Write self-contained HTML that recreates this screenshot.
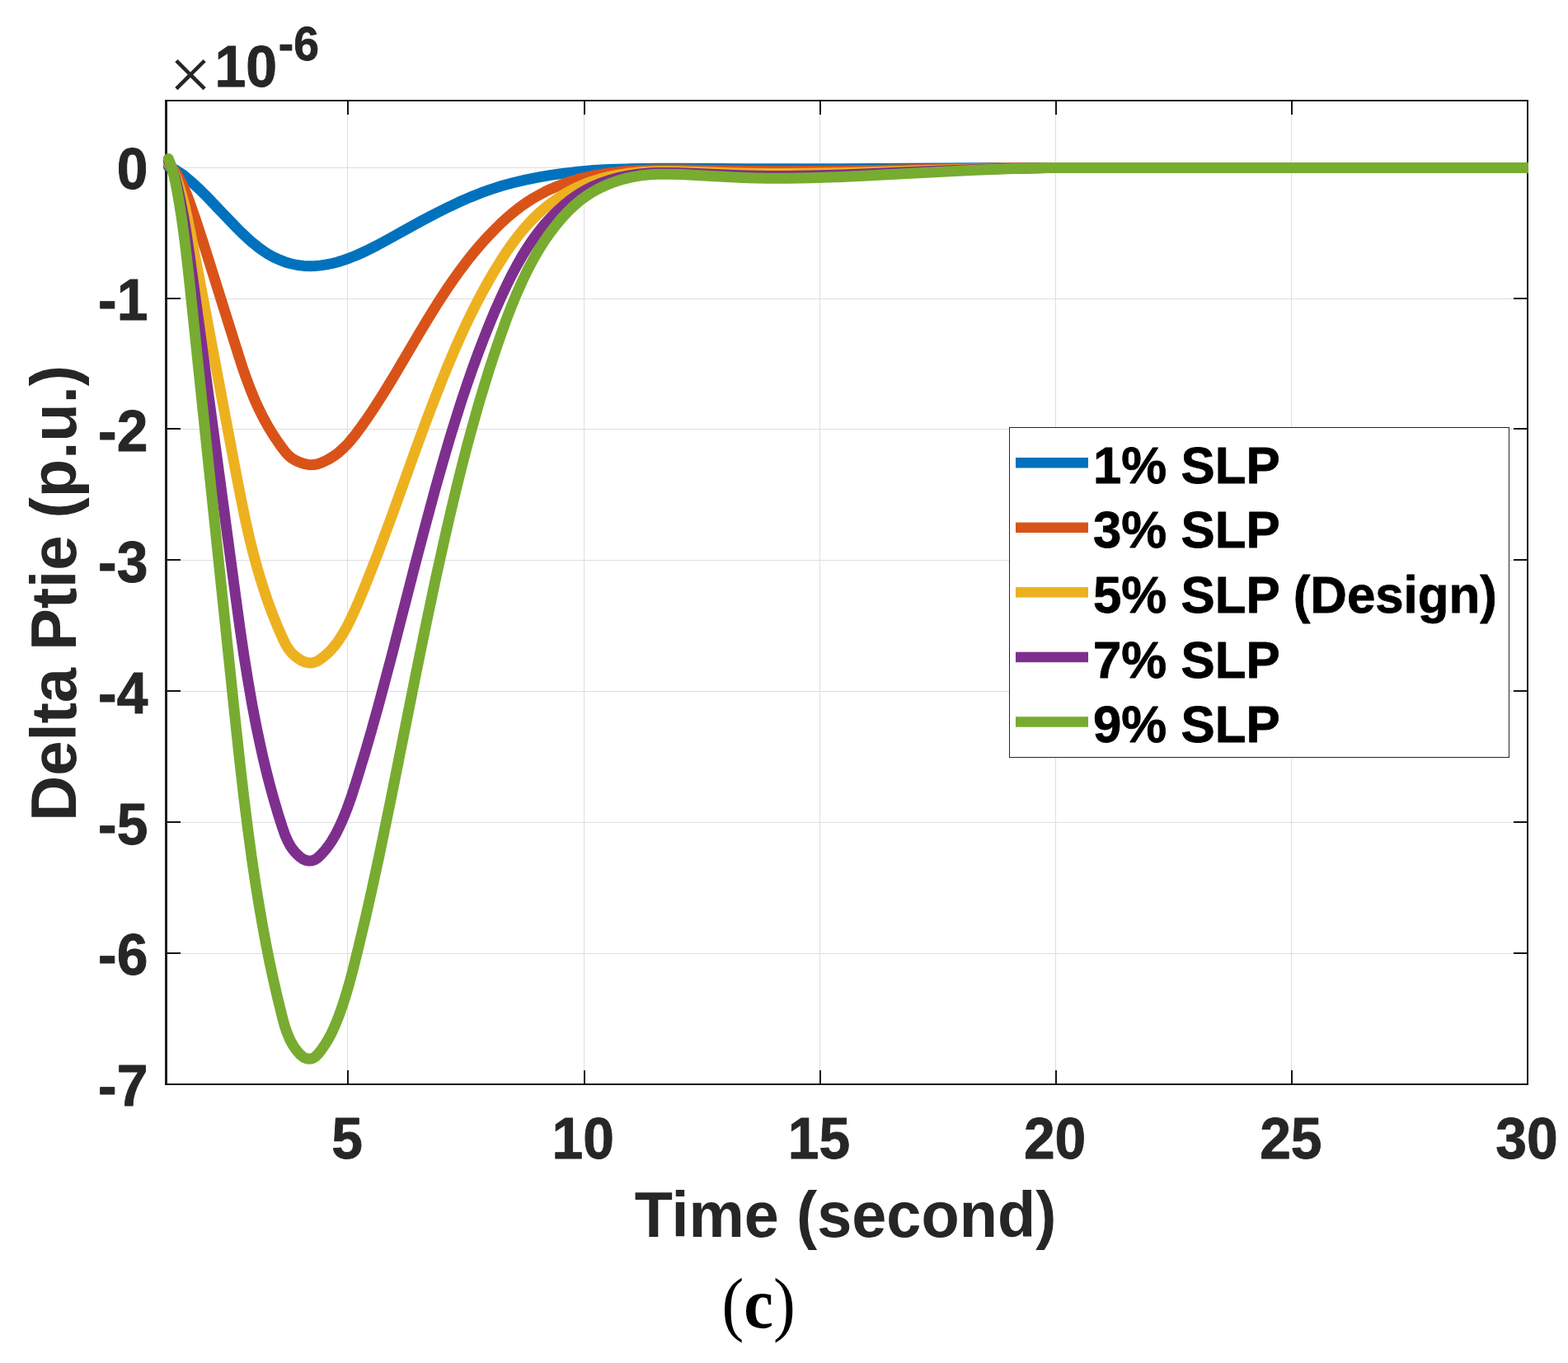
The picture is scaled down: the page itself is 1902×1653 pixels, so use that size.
<!DOCTYPE html><html><head><meta charset="utf-8"><title>Delta Ptie</title>
<style>html,body{margin:0;padding:0;background:#fff;}svg{display:block;}text{font-family:"Liberation Sans",Arial,Helvetica,sans-serif;font-weight:bold;}</style></head><body>
<svg width="1902" height="1653" viewBox="0 0 1902 1653">
<rect width="1902" height="1653" fill="#fff"/>
<defs><clipPath id="ax"><rect x="197" y="0" width="1657" height="1653"/></clipPath></defs>
<g fill="#dedede">
<rect x="421" y="123" width="1" height="1191"/>
<rect x="708" y="123" width="1" height="1191"/>
<rect x="994" y="123" width="1" height="1191"/>
<rect x="1280" y="123" width="1" height="1191"/>
<rect x="1566" y="123" width="1" height="1191"/>
<rect x="203" y="203" width="1649" height="1"/>
<rect x="203" y="362" width="1649" height="1"/>
<rect x="203" y="520" width="1649" height="1"/>
<rect x="203" y="679" width="1649" height="1"/>
<rect x="203" y="838" width="1649" height="1"/>
<rect x="203" y="997" width="1649" height="1"/>
<rect x="203" y="1156" width="1649" height="1"/>
</g>
<g fill="#141414">
<rect x="200" y="121" width="3" height="1195" fill="#1e1e1e"/>
<rect x="200" y="121" width="1654" height="2"/>
<rect x="1852" y="121" width="2" height="1195"/>
<rect x="200" y="1314" width="1654" height="2"/>
<rect x="421" y="1298" width="2" height="17"/>
<rect x="421" y="122" width="2" height="17"/>
<rect x="708" y="1298" width="2" height="17"/>
<rect x="708" y="122" width="2" height="17"/>
<rect x="994" y="1298" width="2" height="17"/>
<rect x="994" y="122" width="2" height="17"/>
<rect x="1280" y="1298" width="2" height="17"/>
<rect x="1280" y="122" width="2" height="17"/>
<rect x="1566" y="1298" width="2" height="17"/>
<rect x="1566" y="122" width="2" height="17"/>
<rect x="202" y="361" width="17" height="2"/>
<rect x="1836" y="361" width="17" height="2"/>
<rect x="202" y="519" width="17" height="2"/>
<rect x="1836" y="519" width="17" height="2"/>
<rect x="202" y="678" width="17" height="2"/>
<rect x="1836" y="678" width="17" height="2"/>
<rect x="202" y="837" width="17" height="2"/>
<rect x="1836" y="837" width="17" height="2"/>
<rect x="202" y="996" width="17" height="2"/>
<rect x="1836" y="996" width="17" height="2"/>
<rect x="202" y="1155" width="17" height="2"/>
<rect x="1836" y="1155" width="17" height="2"/>
</g>
<g fill="#262626" stroke="#262626" stroke-width="0.9" stroke-linejoin="round" font-size="70.2">
<text transform="translate(179.3,229.4) scale(0.965,1)" text-anchor="end">0</text>
<text transform="translate(179.3,388.2) scale(0.965,1)" text-anchor="end">-1</text>
<text transform="translate(179.3,547.1) scale(0.965,1)" text-anchor="end">-2</text>
<text transform="translate(179.3,705.9) scale(0.965,1)" text-anchor="end">-3</text>
<text transform="translate(179.3,864.7) scale(0.965,1)" text-anchor="end">-4</text>
<text transform="translate(179.3,1023.6) scale(0.965,1)" text-anchor="end">-5</text>
<text transform="translate(179.3,1182.4) scale(0.965,1)" text-anchor="end">-6</text>
<text transform="translate(179.3,1341.2) scale(0.965,1)" text-anchor="end">-7</text>
<text transform="translate(421.0,1404.6) scale(0.965,1)" text-anchor="middle">5</text>
<text transform="translate(707.2,1404.6) scale(0.965,1)" text-anchor="middle">10</text>
<text transform="translate(993.4,1404.6) scale(0.965,1)" text-anchor="middle">15</text>
<text transform="translate(1279.6,1404.6) scale(0.965,1)" text-anchor="middle">20</text>
<text transform="translate(1565.8,1404.6) scale(0.965,1)" text-anchor="middle">25</text>
<text transform="translate(1852.0,1404.6) scale(0.965,1)" text-anchor="middle">30</text>
</g>
<text transform="translate(260.5,105) scale(0.965,1)" font-size="70.4" fill="#262626" stroke="#262626" stroke-width="0.9" stroke-linejoin="round">10</text>
<text transform="translate(337.8,73) scale(0.97,1)" font-size="57" fill="#262626" stroke="#262626" stroke-width="0.8" stroke-linejoin="round">-6</text>
<text x="205" y="120.5" font-size="92" fill="#262626" style="font-family:'Liberation Serif',serif;font-weight:normal">×</text>
<text transform="translate(1025.5,1500.3) scale(0.962,1)" text-anchor="middle" font-size="78.7" fill="#262626">Time (second)</text>
<text transform="translate(92,719.3) rotate(-90) scale(0.965,1)" text-anchor="middle" font-size="78.7" fill="#262626">Delta Ptie (p.u.)</text>
<g clip-path="url(#ax)" fill="none" stroke-width="13" stroke-linejoin="round" stroke-linecap="round">
<path d="M204.3,202.0 L207.6,203.4 L211.1,205.2 L214.6,207.2 L218.3,209.6 L222.1,212.2 L225.8,215.1 L233.8,221.9 L240.8,228.4 L248.8,236.3 L279.6,268.6 L286.6,275.8 L292.8,282.0 L299.8,288.6 L306.3,294.3 L312.6,299.4 L318.3,303.6 L325.1,308.1 L332.1,312.0 L339.1,315.2 L346.3,317.9 L353.6,320.0 L360.8,321.5 L368.3,322.4 L376.1,322.7 L382.6,322.5 L389.1,321.9 L395.8,320.9 L402.8,319.5 L409.8,317.7 L417.1,315.4 L424.3,312.8 L432.1,309.7 L444.1,304.3 L457.3,297.6 L469.3,291.1 L497.1,275.7 L512.5,267.3 L527.8,259.2 L541.8,252.2 L556.3,245.3 L569.8,239.4 L582.8,234.2 L595.5,229.6 L609.0,225.3 L623.0,221.5 L637.3,218.1 L652.3,215.1 L668.0,212.4 L684.5,210.1 L701.5,208.2 L720.1,206.6 L738.2,205.6 L758.0,204.9 L778.1,204.4 L800.0,204.3 L827.5,204.3 L907.1,204.8 L954.5,204.8 L1013.5,204.7 L1183.0,203.7 L1269.7,203.4 L1860.0,203.4" stroke="#0072BD"/>
<path d="M204.3,199.8 L207.6,202.7 L210.6,205.8 L213.1,209.3 L215.9,213.9 L219.4,220.3 L222.7,227.0 L225.8,234.2 L228.9,242.2 L236.6,264.2 L245.5,291.2 L288.0,426.5 L294.2,445.8 L299.1,459.8 L303.9,472.5 L308.7,484.3 L313.8,495.5 L317.6,503.2 L321.6,510.8 L325.7,518.1 L330.0,525.1 L334.7,532.4 L339.6,539.5 L345.1,546.9 L348.3,550.7 L351.1,553.4 L354.1,555.8 L357.6,557.9 L361.5,559.8 L366.0,561.6 L369.8,562.7 L373.8,563.4 L377.6,563.7 L380.5,563.6 L383.2,563.2 L385.8,562.6 L388.5,561.7 L392.9,559.8 L397.1,557.7 L401.1,555.5 L404.9,553.1 L408.1,550.8 L411.3,548.3 L414.5,545.4 L417.9,542.2 L421.1,539.0 L424.2,535.5 L430.7,527.7 L438.1,517.7 L446.2,506.1 L454.3,494.1 L462.7,481.0 L470.1,469.0 L478.4,455.3 L506.9,407.0 L518.4,387.8 L530.6,368.1 L542.2,350.4 L548.9,340.6 L555.4,331.4 L561.8,322.8 L568.2,314.4 L574.7,306.4 L581.1,298.8 L587.7,291.3 L594.4,284.1 L601.4,277.0 L607.9,270.5 L614.3,264.7 L620.8,259.1 L627.4,253.8 L633.9,248.9 L640.4,244.5 L647.0,240.3 L653.9,236.4 L660.9,232.7 L668.2,229.2 L675.8,226.0 L683.7,223.0 L692.0,220.1 L700.2,217.6 L708.2,215.5 L717.5,213.5 L727.6,211.6 L738.4,210.0 L749.8,208.6 L761.5,207.6 L773.2,206.8 L785.1,206.3 L798.4,206.0 L811.1,206.0 L826.6,206.1 L907.8,207.5 L954.5,207.7 L982.5,207.5 L1013.5,207.2 L1183.0,204.3 L1228.7,203.8 L1269.7,203.5 L1860.0,203.4" stroke="#D95319"/>
<path d="M204.3,197.3 L207.4,201.8 L210.0,206.6 L212.4,211.9 L214.8,218.4 L218.1,228.5 L221.2,239.2 L224.2,250.7 L227.0,263.2 L231.6,285.4 L243.3,345.7 L286.4,574.6 L292.3,604.7 L297.2,628.7 L302.0,650.1 L306.9,670.1 L312.0,688.8 L315.9,701.9 L319.9,714.6 L324.0,726.9 L328.3,738.9 L333.1,751.2 L338.0,763.1 L343.6,775.6 L346.8,782.1 L349.7,786.7 L352.7,790.7 L356.2,794.3 L360.1,797.5 L364.6,800.4 L366.5,801.5 L368.4,802.3 L370.4,803.0 L372.4,803.5 L374.4,803.8 L376.2,803.9 L379.1,803.7 L381.8,803.0 L384.3,802.1 L387.0,800.6 L391.0,797.7 L395.1,794.4 L399.0,790.9 L402.5,787.2 L405.5,783.6 L408.6,779.7 L411.7,775.3 L414.9,770.2 L417.9,765.1 L421.0,759.6 L424.0,753.6 L427.1,747.3 L433.4,733.2 L441.6,713.7 L449.5,693.9 L457.9,672.3 L466.0,650.8 L475.1,626.2 L503.8,546.4 L515.4,514.7 L527.8,482.1 L539.4,452.9 L546.4,436.1 L553.1,420.4 L559.8,405.4 L566.4,391.2 L573.1,377.5 L579.8,364.3 L586.6,351.6 L593.5,339.3 L600.6,327.1 L607.4,316.2 L613.9,306.1 L620.5,296.7 L627.1,287.8 L633.6,279.7 L640.1,272.2 L646.7,265.2 L653.6,258.6 L660.7,252.4 L668.1,246.6 L675.7,241.2 L683.7,236.0 L692.0,231.2 L700.2,227.1 L708.2,223.6 L717.5,220.2 L727.6,217.1 L738.4,214.4 L749.8,212.1 L761.5,210.3 L773.2,209.1 L785.1,208.2 L798.4,207.8 L811.1,207.7 L826.6,207.9 L886.5,209.8 L907.8,210.3 L930.6,210.5 L954.5,210.6 L982.5,210.3 L1013.5,209.7 L1047.4,208.9 L1138.0,206.2 L1183.0,205.0 L1228.7,204.0 L1269.7,203.5 L1298.7,203.4 L1860.0,203.4" stroke="#EDB120"/>
<path d="M204.3,194.9 L207.2,200.8 L209.8,207.3 L212.1,214.4 L214.4,223.1 L217.5,236.7 L220.5,251.3 L223.4,266.8 L226.1,283.8 L230.3,312.1 L240.8,388.9 L285.7,722.5 L291.2,763.0 L296.2,796.9 L301.1,827.3 L306.0,855.5 L311.1,881.9 L315.0,900.4 L318.9,918.2 L323.1,935.6 L327.4,952.4 L332.2,969.7 L337.1,986.4 L342.8,1004.2 L346.0,1013.4 L348.9,1019.8 L351.9,1025.4 L353.6,1028.0 L355.4,1030.4 L357.3,1032.8 L359.3,1035.0 L361.4,1037.0 L363.7,1039.1 L365.8,1040.7 L367.7,1041.9 L369.7,1042.8 L371.7,1043.5 L373.7,1043.9 L375.5,1044.0 L378.4,1043.8 L381.1,1042.9 L383.6,1041.6 L386.3,1039.5 L390.5,1035.3 L394.6,1030.7 L398.4,1025.8 L402.1,1020.4 L405.2,1015.2 L408.3,1009.7 L411.4,1003.3 L414.7,996.2 L417.8,988.9 L420.9,981.0 L423.9,972.7 L427.1,963.6 L434.0,941.9 L442.5,913.9 L450.8,885.3 L459.5,853.9 L466.9,826.3 L475.3,794.7 L503.9,683.2 L515.7,638.4 L528.1,592.4 L539.9,550.9 L546.8,527.6 L553.6,505.7 L560.2,484.9 L566.8,465.3 L573.4,446.3 L580.1,428.0 L586.9,410.2 L593.8,392.9 L600.8,376.1 L607.6,360.8 L614.2,346.7 L620.7,333.6 L627.3,321.2 L633.8,309.8 L640.3,299.4 L646.9,289.7 L653.7,280.5 L660.7,271.9 L668.1,263.8 L675.7,256.3 L683.7,249.0 L692.0,242.4 L700.2,236.6 L708.2,231.7 L712.7,229.3 L717.5,226.9 L722.4,224.7 L727.6,222.6 L733.0,220.6 L738.4,218.8 L744.0,217.2 L749.8,215.6 L755.5,214.3 L761.5,213.1 L767.3,212.1 L773.2,211.3 L779.0,210.7 L785.1,210.1 L798.4,209.5 L811.1,209.4 L826.6,209.8 L844.4,210.4 L886.5,212.3 L907.8,213.0 L930.6,213.4 L954.5,213.4 L982.5,213.1 L1013.5,212.3 L1047.4,211.0 L1138.0,207.3 L1183.0,205.6 L1228.7,204.3 L1269.7,203.5 L1298.7,203.4 L1320.0,203.5 L1860.0,203.4" stroke="#7E2F8E"/>
<path d="M204.3,192.5 L207.1,199.8 L209.6,208.0 L211.9,216.9 L214.1,227.6 L217.2,244.9 L220.1,263.1 L222.8,282.6 L225.5,303.8 L227.9,324.7 L230.8,351.2 L285.0,869.6 L290.5,920.8 L295.5,964.6 L300.4,1003.9 L305.3,1040.3 L310.4,1074.6 L314.3,1098.4 L318.3,1121.5 L322.5,1144.1 L326.8,1166.0 L331.6,1188.2 L336.6,1209.9 L342.3,1233.0 L345.5,1244.9 L348.4,1253.1 L351.4,1260.3 L353.1,1263.6 L354.9,1266.7 L356.8,1269.8 L358.8,1272.5 L360.9,1275.2 L363.2,1277.8 L365.3,1279.9 L367.2,1281.4 L369.2,1282.7 L371.2,1283.5 L373.2,1284.1 L375.0,1284.2 L376.3,1284.1 L377.9,1283.9 L379.2,1283.4 L380.6,1282.8 L382.0,1281.9 L383.2,1280.9 L385.9,1278.2 L390.1,1272.8 L394.4,1266.6 L398.3,1260.1 L402.0,1253.2 L405.1,1246.6 L408.2,1239.2 L411.5,1230.8 L414.8,1221.4 L417.9,1212.0 L421.0,1201.8 L424.2,1190.8 L427.4,1178.9 L434.4,1150.6 L442.8,1115.5 L450.9,1079.6 L459.3,1041.0 L466.7,1005.2 L475.1,964.4 L504.0,819.8 L515.8,761.9 L528.3,702.6 L540.2,649.1 L547.1,619.3 L553.8,591.2 L560.4,564.7 L567.0,539.2 L573.7,514.8 L580.3,491.3 L587.1,468.6 L594.0,446.4 L601.1,424.8 L607.8,405.3 L614.3,387.2 L620.8,370.4 L627.4,354.6 L633.9,340.0 L640.4,326.6 L647.0,314.2 L653.9,302.3 L660.9,291.3 L668.2,280.9 L675.8,271.2 L679.8,266.5 L683.7,262.1 L687.8,257.7 L692.0,253.5 L696.0,249.7 L700.2,246.1 L704.2,242.8 L708.2,239.8 L712.7,236.7 L717.5,233.6 L722.4,230.8 L727.6,228.0 L733.0,225.5 L738.4,223.2 L744.0,221.1 L749.8,219.1 L755.5,217.4 L761.5,215.9 L767.3,214.6 L773.2,213.6 L779.0,212.7 L785.1,212.1 L791.5,211.6 L798.4,211.3 L811.1,211.2 L826.6,211.6 L844.4,212.4 L886.5,214.8 L907.8,215.7 L930.6,216.2 L954.5,216.3 L982.5,215.8 L1013.5,214.8 L1047.4,213.2 L1138.0,208.4 L1183.0,206.2 L1228.7,204.5 L1249.6,204.0 L1269.7,203.6 L1298.7,203.4 L1320.0,203.5 L1860.0,203.4" stroke="#77AC30"/>
</g>
<rect x="1224.5" y="518.5" width="606" height="400" fill="#fff" stroke="#262626" stroke-width="1"/>
<rect x="1232" y="555.0" width="88" height="12.5" fill="#0072BD"/>
<text transform="translate(1326,585.9) scale(0.970,1)" font-size="63.7" fill="#000" stroke="#000" stroke-width="0.8" stroke-linejoin="round">1% SLP</text>
<rect x="1232" y="633.6" width="88" height="12.5" fill="#D95319"/>
<text transform="translate(1326,664.4) scale(0.970,1)" font-size="63.7" fill="#000" stroke="#000" stroke-width="0.8" stroke-linejoin="round">3% SLP</text>
<rect x="1232" y="712.1" width="88" height="12.5" fill="#EDB120"/>
<text transform="translate(1326,743.0) scale(0.970,1)" font-size="63.7" fill="#000" stroke="#000" stroke-width="0.8" stroke-linejoin="round">5% SLP (Design)</text>
<rect x="1232" y="790.7" width="88" height="12.5" fill="#7E2F8E"/>
<text transform="translate(1326,821.5) scale(0.970,1)" font-size="63.7" fill="#000" stroke="#000" stroke-width="0.8" stroke-linejoin="round">7% SLP</text>
<rect x="1232" y="869.2" width="88" height="12.5" fill="#77AC30"/>
<text transform="translate(1326,900.1) scale(0.970,1)" font-size="63.7" fill="#000" stroke="#000" stroke-width="0.8" stroke-linejoin="round">9% SLP</text>
<text transform="translate(875.4,1610) scale(0.926,1)" font-size="87" fill="#000" style="font-family:'Liberation Serif',serif;font-weight:normal">(<tspan style="font-weight:bold">c</tspan>)</text>
</svg></body></html>
